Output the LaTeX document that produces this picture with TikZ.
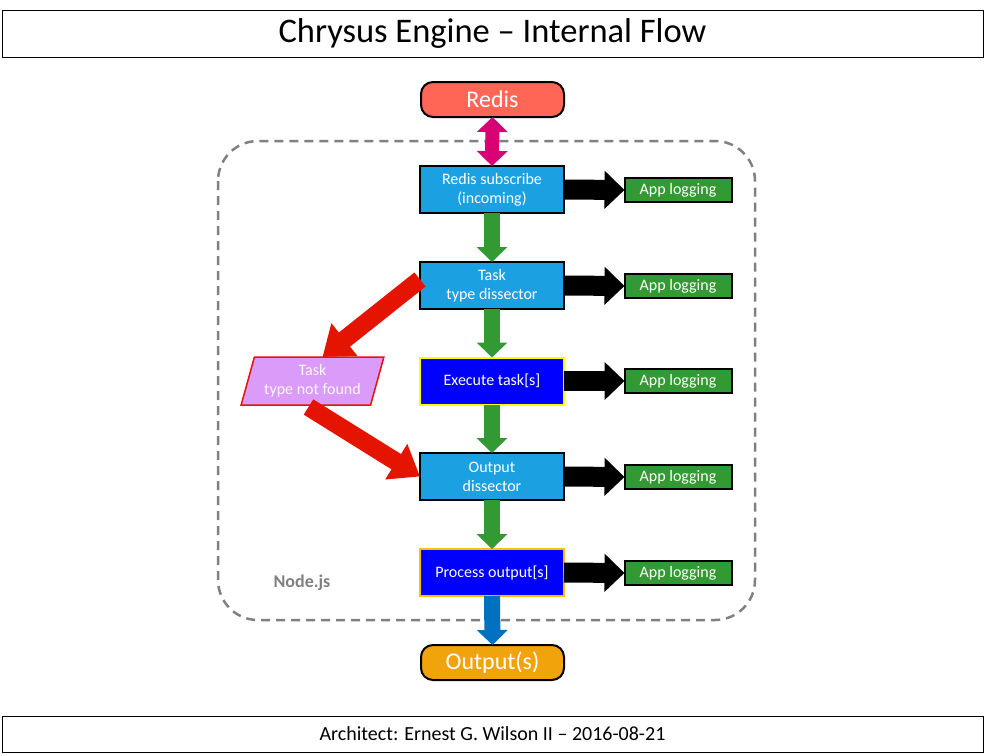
\documentclass[tikz,border=0pt]{standalone}
\usepackage{fontspec}
\setmainfont{Carlito}
\usetikzlibrary{arrows.meta,shapes.geometric}
\definecolor{redisred}{HTML}{FF6655}
\definecolor{stepblue}{HTML}{1BA1E2}
\definecolor{loggreen}{HTML}{339933}
\definecolor{lostlilac}{HTML}{DA9BF9}
\definecolor{failred}{HTML}{E51400}
\definecolor{linkpink}{HTML}{D80073}
\definecolor{outorange}{HTML}{F0A30A}
\definecolor{outblue}{HTML}{0070C0}
\definecolor{frameyellow}{HTML}{FFFF00}
\definecolor{framegold}{HTML}{FFC000}

\begin{document}
\begin{tikzpicture}[x=1pt, y=-1pt, font=\fontsize{16}{19}\selectfont,
     every node/.style = {outer sep = 0pt, align=center},
     banner/.style = {draw=black, line width=1pt, fill=white,
         minimum width=981pt, text=black},
     terminal/.style = {draw=black, line width=2pt, rounded corners=12pt,
         minimum width=143pt, minimum height=35pt, text=white,
         font=\fontsize{24}{28}\selectfont},
     stepbox/.style = {draw=black, line width=2pt, fill=stepblue,
         minimum width=144pt, minimum height=47pt, text=white},
     runbox/.style = {stepbox, fill=blue},
     logbox/.style = {draw=black, line width=2pt, fill=loggreen,
         minimum width=107pt, minimum height=24pt, text=white},
     flow/.style = {line width=16pt, draw=loggreen,
         -{Triangle[length=15pt, width=30pt]}},
     side/.style = {line width=20pt, draw=black,
         -{Triangle[length=20pt, width=37pt]}},
     fail/.style = {line width=18pt, draw=failred,
         -{Triangle[length=28pt, width=40pt]}}]
        \useasboundingbox (0,0) rectangle (985,755);
        % frame of the node.js process
        \draw [draw=black!50, line width=2.5pt, dash pattern=on 9pt off 6pt,
                rounded corners=40pt] (218,141) rectangle (755,620);
        \node [text=black!50, font=\bfseries\fontsize{18}{21}\selectfont]
            at (302,583) (nodejs) {Node.js};
        % title and footer
        \node [banner, minimum height=47pt,
                font=\fontsize{34.5}{40}\selectfont]
            at (492.5,33.5) (title) {Chrysus Engine – Internal Flow};
        \node [banner, minimum height=36pt,
                font=\fontsize{20}{24}\selectfont]
            at (492.5,734) (footer) {Architect: Ernest G. Wilson II – 2016-08-21};
        % main column
        \node [terminal, fill=redisred]
            at (492.5,99.5) (redis) {Redis};
        \node [stepbox]
            at (492,189.5) (sub) {Redis subscribe\\(incoming)};
        \node [stepbox]
            at (492,285.5) (task) {Task\\type dissector};
        \node [runbox, draw=frameyellow]
            at (492,381) (exec) {Execute task[s]};
        \node [stepbox]
            at (492,476.5) (outd) {Output\\dissector};
        \node [runbox, draw=framegold]
            at (492,572.5) (proc) {Process output[s]};
        \node [terminal, fill=outorange]
            at (492.5,662.5) (out) {Output(s)};
        % side branch
        \node [trapezium, trapezium left angle=72, trapezium right angle=108,
                trapezium stretches=true, draw=failred, line width=1.5pt,
                fill=lostlilac, text=white!92!lostlilac,
                minimum width=143pt, minimum height=48pt, inner sep=1pt]
            at (312.5,381) (lost) {Task\\type not found};
        % logging
        \foreach \src/\y in {sub/190, task/286, exec/381, outd/477, proc/573} {
            \node [logbox] at (678,\y) (log-\src) {App logging};
            \draw [side] (\src.east) -- (log-\src.west);
        }
        % arrows
        \draw [line width=14pt, draw=linkpink,
                {Triangle[length=15pt, width=30pt]}-{Triangle[length=15pt, width=30pt]}]
            (redis.south) -- (sub.north);
        \draw [flow] (sub.south) -- (task.north);
        \draw [flow] (task.south) -- (exec.north);
        \draw [flow] (exec.south) -- (outd.north);
        \draw [flow] (outd.south) -- (proc.north);
        \draw [flow, draw=outblue] (proc.south) -- (out.north);
        \draw [fail] ([yshift=6pt]task.west) -- ([xshift=10pt]lost.north);
        \draw [fail] ([xshift=-4pt, yshift=-2pt]lost.south) -- (outd.west);
\end{tikzpicture}
\end{document}
